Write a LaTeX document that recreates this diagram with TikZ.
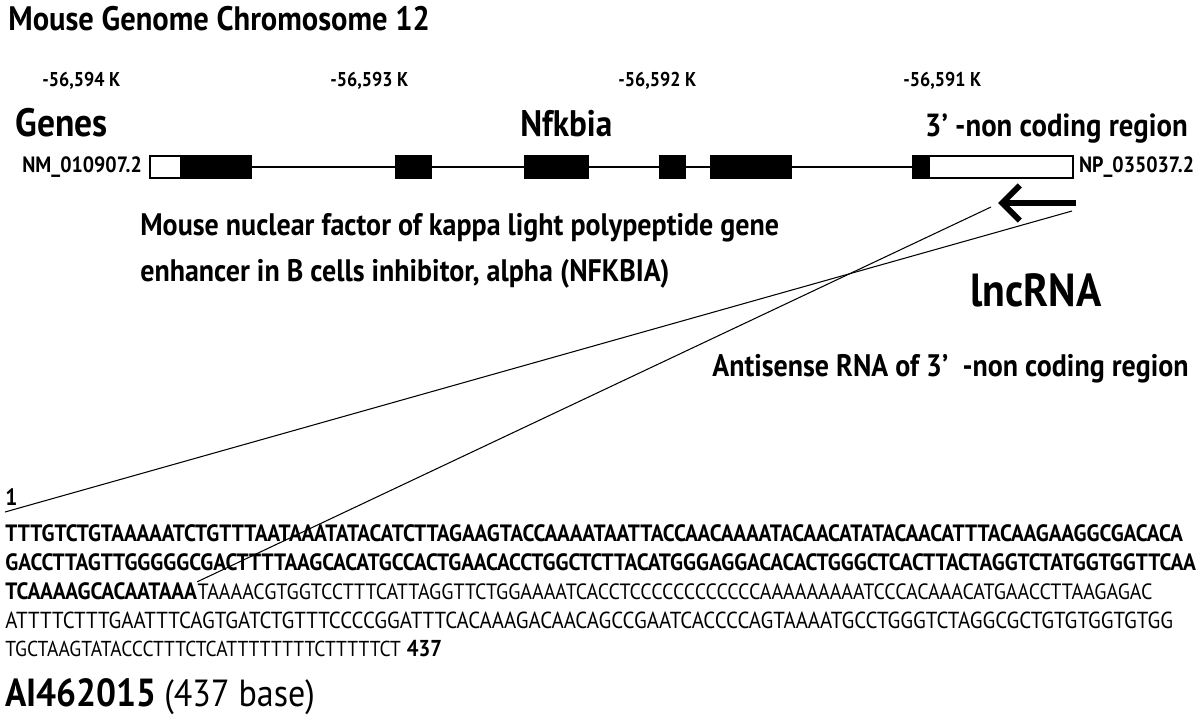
\documentclass[tikz,border=0pt]{standalone}
\usepackage{fontspec}
\setmainfont[FakeStretch=0.9]{PT Sans}
\usetikzlibrary{arrows.meta}

\tikzset{
  lbl/.style={anchor=base west, inner sep=0pt},
  big/.style={lbl, font=\bfseries\fontsize{21}{24}\selectfont},
  tick/.style={lbl, font=\bfseries\fontsize{11.4}{13}\selectfont},
  acc/.style={lbl, font=\bfseries\fontsize{12.6}{15}\selectfont},
  desc/.style={lbl, font=\bfseries\fontsize{17.7}{20}\selectfont},
  seq/.style={lbl, font=\fontsize{12.3}{14}\selectfont},
  seqb/.style={lbl, font=\bfseries\fontsize{13.45}{15}\selectfont},
  exon/.style={draw, fill=black, line width=0.9pt, inner sep=0pt, minimum height=12.5pt},
  utr/.style={exon, fill=white},
  thin/.style={line width=0.6pt}
}

\begin{document}
\begin{tikzpicture}[x=0.02cm, y=-0.02cm]
  \useasboundingbox (0,0) rectangle (1200,721);

  % Title and position scale
  \node[lbl, font=\bfseries\fontsize{19.3}{22}\selectfont] (title) at (8,30) {Mouse Genome Chromosome 12};
  \node[tick] (k594) at (42,86) {-56,594 K};
  \node[tick] (k593) at (330,86) {-56,593 K};
  \node[tick] (k592) at (618,86) {-56,592 K};
  \node[tick] (k591) at (903,86) {-56,591 K};

  % Headings of the gene track
  \node[big, font=\bfseries\fontsize{22.5}{25}\selectfont] (genes) at (15,136) {Genes};
  \node[big] (gname) at (520,136) {Nfkbia};
  \node[big, anchor=base east, font=\bfseries\fontsize{18.2}{21}\selectfont] (ncr) at (1188,136) {3’ -non coding region};

  % Gene model
  \node[utr, minimum width=31*0.567pt] (u5) at (165.5,167) {};
  \node[exon, minimum width=70*0.567pt] (e1) at (216,167) {};
  \node[exon, minimum width=35*0.567pt] (e2) at (413.5,167) {};
  \node[exon, minimum width=63*0.567pt] (e3) at (556.5,167) {};
  \node[exon, minimum width=25*0.567pt] (e4) at (672.5,167) {};
  \node[exon, minimum width=80*0.567pt] (e5) at (751,167) {};
  \node[exon, minimum width=16*0.567pt] (e6) at (921,167) {};
  \node[utr, minimum width=144*0.567pt] (u3) at (1001,167) {};

  % Introns
  \draw[line width=0.9pt] (e1.east) -- (e2.west);
  \draw[line width=0.9pt] (e2.east) -- (e3.west);
  \draw[line width=0.9pt] (e3.east) -- (e4.west);
  \draw[line width=0.9pt] (e4.east) -- (e5.west);
  \draw[line width=0.9pt] (e5.east) -- (e6.west);

  \node[acc, anchor=east] (nm) at ([xshift=-4pt]u5.west) {NM\_010907.2};
  \node[acc, anchor=west] (np) at ([xshift=3pt]u3.east) {NP\_035037.2};

  % Antisense direction
  \coordinate (atail) at (1076,203);
  \coordinate (ahead) at (998,203);
  \draw[line width=3.4pt, -{Straight Barb[length=10pt, width=20pt]}] (atail) -- (ahead);

  % Descriptions
  \node[desc] (full1) at (140,235) {Mouse nuclear factor of kappa light polypeptide gene};
  \node[desc] (full2) at (140,281) {enhancer in B cells inhibitor, alpha (NFKBIA)};
  \node[lbl, font=\bfseries\fontsize{26.4}{30}\selectfont] (lnc) at (970,306) {lncRNA};
  \node[desc] (anti) at (712,376) {Antisense RNA of 3’\ \ -non coding region};

  % Sequence AI462015
  \node[seqb] (one) at (5,505) {1};
  \node[seqb] (s1) at (5,541) {TTTGTCTGTAAAAATCTGTTTAATAAATATACATCTTAGAAGTACCAAAATAATTACCAACAAAATACAACATATACAACATTTACAAGAAGGCGACACA};
  \node[seqb] (s2) at (5,570) {GACCTTAGTTGGGGGCGACTTTTAAGCACATGCCACTGAACACCTGGCTCTTACATGGGAGGACACACTGGGCTCACTTACTAGGTCTATGGTGGTTCAA};
  \node[seqb] (s3b) at (5,599) {TCAAAAGCACAATAAA};
  \node[seq, font=\fontsize{12.6}{14}\selectfont] (s3) at (s3b.base east) {TAAAACGTGGTCCTTTCATTAGGTTCTGGAAAATCACCTCCCCCCCCCCCCAAAAAAAAATCCCACAAACATGAACCTTAAGAGAC};
  \node[seq, font=\fontsize{13.2}{15}\selectfont] (s4) at (5,628) {ATTTTCTTTGAATTTCAGTGATCTGTTTCCCCGGATTTCACAAAGACAACAGCCGAATCACCCCAGTAAAATGCCTGGGTCTAGGCGCTGTGTGGTGTGG};
  \node[seq] (s5) at (5,656) {TGCTAAGTATACCCTTTCTCATTTTTTTTCTTTTTCT};
  \node[seqb, font=\bfseries\fontsize{13.1}{15}\selectfont] (last) at ([xshift=3pt]s5.base east) {437};
  \node[lbl, font=\bfseries\fontsize{22.3}{25}\selectfont] (ai) at (5,706) {AI462015};
  \node[lbl, font=\fontsize{21.5}{24}\selectfont] (len) at ([xshift=4pt]ai.base east) {(437 base)};

  % Lines from the antisense region to the sequence
  \coordinate (startA) at (5,512);
  \coordinate (topA) at (1072,211);
  \coordinate (topB) at (991,207);
  \draw[thin] (startA) -- (topA);
  \draw[thin] (s3b.north east) -- (topB);
\end{tikzpicture}
\end{document}
